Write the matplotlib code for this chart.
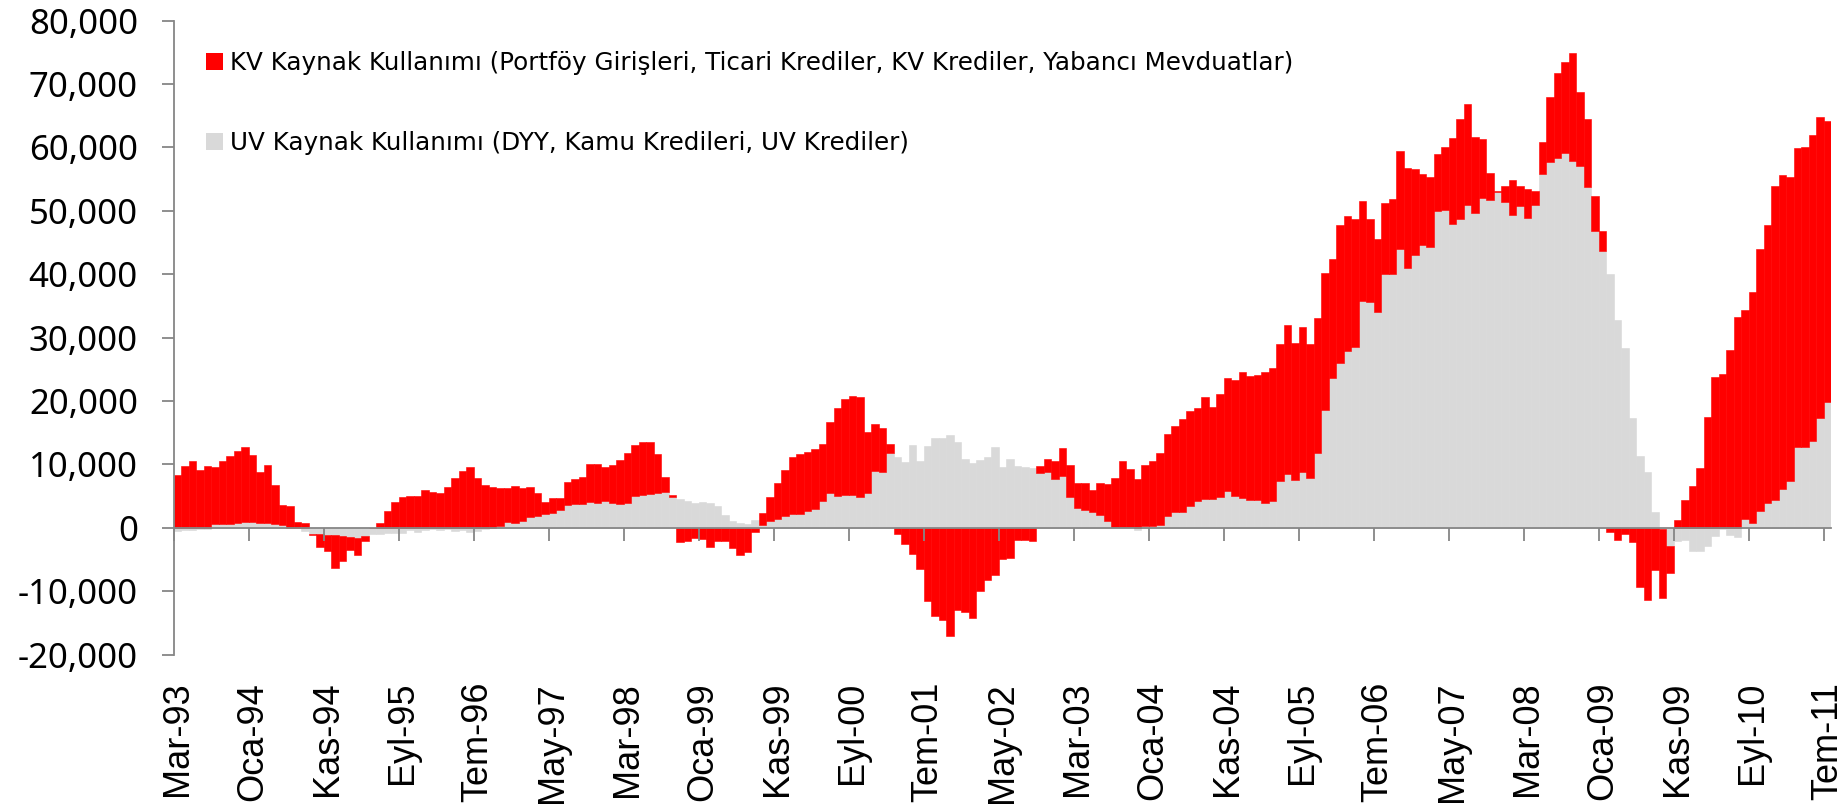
import numpy as np
import matplotlib.pyplot as plt
from matplotlib.patches import Patch
from matplotlib.ticker import FuncFormatter

# eksen etiketleri (her 10 ayda bir)
tick_labels = ["Mar-93", "Oca-94", "Kas-94", "Eyl-95", "Tem-96", "May-97", "Mar-98",
               "Oca-99", "Kas-99", "Eyl-00", "Tem-01", "May-02", "Mar-03", "Oca-04",
               "Kas-04", "Eyl-05", "Tem-06", "May-07", "Mar-08", "Oca-09", "Kas-09",
               "Eyl-10", "Tem-11"]

# UV kaynak kullanimi (gri seri), Mar-93 .. Tem-11, aylik
uv = [-500, -400, -300, -200, -100, 600, 600, 550, 750, 850,
      900, 800, 750, 650, 400, 0, 0, -500, -950, -950,
      -1050, -1200, -1350, -1450, -1550, -1250, -1000, -900, -850, -800,
      -800, -400, -600, -300, -200, -300, -200, -500, -300, -600,
      -500, -200, 0, 300, 900, 800, 1150, 1650, 1950, 2200,
      2400, 2850, 3600, 3700, 3800, 4050, 3900, 4200, 4000, 3800,
      3900, 5000, 5200, 5400, 5550, 5600, 4850, 4600, 4250, 3950,
      4050, 3850, 3450, 2000, 1150, 750, 600, 1200, 400, 1050,
      1350, 1850, 2150, 2200, 2700, 3000, 4200, 5450, 4950, 5150,
      5200, 4850, 5450, 8950, 8750, 11750, 11200, 10450, 13050, 10600,
      12900, 14100, 14250, 14650, 13500, 10800, 10300, 10700, 11250, 12800,
      9650, 10800, 9750, 9550, 9500, 8700, 8850, 7650, 8150, 4900,
      3100, 2800, 2550, 2100, 1050, 150, 150, 100, -400, 250,
      250, 450, 1850, 2550, 2550, 3450, 4300, 4600, 4500, 4850,
      5800, 5100, 4700, 4450, 4450, 3900, 4300, 7400, 8550, 7600,
      8750, 7900, 11800, 18550, 23700, 25950, 27900, 28550, 35800, 35550,
      34100, 40000, 40050, 43900, 41050, 43050, 44650, 44250, 49900, 50150,
      47900, 48700, 50950, 49600, 52050, 51750, 52900, 51400, 49300, 50700,
      48850, 50850, 55800, 57750, 58300, 59150, 57800, 57000, 53700, 46750,
      43600, 40050, 32800, 28350, 17300, 11350, 8850, 2550, -200, -2900,
      -2050, -1950, -3650, -3650, -2850, -1250, -100, -1150, -1400, 1350,
      700, 2650, 3850, 4350, 6200, 7400, 12700, 12800, 13700, 17300, 19850]

# KV kaynak kullanimi (kirmizi seri)
kv = [8300, 9800, 10500, 9200, 9700, 9000, 10000, 10750, 11350, 11850,
      10550, 8000, 9100, 6100, 3250, 3500, 900, 800, -250, -2000,
      -2600, -5200, -3800, -2000, -2800, -800, 0, 800, 2600, 4050,
      4800, 5000, 5100, 6000, 5700, 5500, 6400, 7900, 8900, 9550,
      7900, 6800, 6500, 5950, 5400, 5750, 5100, 4850, 3600, 1850,
      2350, 1800, 3600, 4050, 4250, 6050, 6150, 5400, 5850, 6850,
      7900, 8050, 8400, 8200, 6050, 2400, 300, -2200, -2100, -1600,
      -1800, -2950, -2100, -2100, -3250, -4350, -3800, -650, 2000, 3800,
      5800, 7200, 9050, 9450, 9200, 9450, 9050, 11300, 13900, 15100,
      15550, 15750, 9700, 7400, 6950, 1450, -1000, -2600, -4050, -6450,
      -11550, -13900, -14450, -17000, -13000, -13300, -14200, -10000, -8150, -7500,
      -4850, -4700, -1850, -1850, -2100, 1050, 2000, 2950, 4400, 5000,
      4050, 4300, 3350, 5050, 5850, 7700, 10400, 9250, 7750, 9650,
      10250, 11350, 12900, 13450, 14550, 14950, 14600, 16050, 14550, 16300,
      17900, 18200, 19800, 19500, 19600, 20600, 20850, 21550, 23500, 21500,
      22850, 21100, 21250, 21600, 18650, 21750, 21250, 20150, 15800, 13150,
      11450, 11200, 11800, 15600, 15700, 13600, 11200, 11100, 9050, 9900,
      13550, 15700, 15950, 12000, 9300, 4200, 200, 2450, 5600, 3150,
      4600, 2250, 5100, 10250, 13350, 14300, 17150, 11750, 10700, 5550,
      3250, -650, -1950, -900, -2300, -9350, -11450, -6700, -10800, -4200,
      1300, 4350, 6600, 9400, 17550, 23850, 24300, 28100, 33200, 32950,
      36550, 41350, 43950, 49600, 49400, 48000, 47150, 47250, 48200, 47550, 44250]

kv_label = "KV Kaynak Kullanımı (Portföy Girişleri, Ticari Krediler, KV Krediler, Yabancı Mevduatlar)"
uv_label = "UV Kaynak Kullanımı (DYY, Kamu Kredileri, UV Krediler)"

RED = "#ff0000"
GRAY = "#d9d9d9"
AXIS = "#868686"

x = np.arange(len(uv))
uv_arr = np.array(uv)
kv_arr = np.array(kv)
# Excel gibi: pozitifler pozitiflerin, negatifler negatiflerin ustune yigilir
kv_bottom = np.where(kv_arr >= 0, np.maximum(uv_arr, 0), np.minimum(uv_arr, 0))

fig = plt.figure(figsize=(18.49, 8.05), dpi=100)
ax = fig.add_axes([0.0941, 0.1867, 0.8964, 0.7878])

ax.bar(x, uv_arr, width=1.0, color=GRAY, edgecolor=GRAY, linewidth=0.4)
ax.bar(x, kv_arr, bottom=kv_bottom, width=1.0, color=RED, edgecolor=RED, linewidth=0.4)

ax.set_xlim(-0.5, len(uv) - 0.5)
ax.set_ylim(-20000, 80000)

for s in ["top", "right"]:
    ax.spines[s].set_visible(False)
ax.spines["bottom"].set_position(("data", 0))
ax.spines["bottom"].set_color(AXIS)
ax.spines["left"].set_color(AXIS)
ax.spines["bottom"].set_linewidth(1.3)
ax.spines["left"].set_linewidth(1.3)

# x ekseni: tikler kategori sinirlarinda, etiketler altta
ax.set_xticks(np.arange(0, len(uv), 10) - 0.5)
ax.tick_params(axis="x", length=9, width=1.3, color=AXIS, labelbottom=False, direction="out")

ax.set_yticks(np.arange(-20000, 80001, 10000))
ax.yaxis.set_major_formatter(FuncFormatter(lambda v, p: f"{v:,.0f}"))
ax.tick_params(axis="y", length=9, width=1.3, color=AXIS, pad=17, labelsize=25)
for lbl in ax.get_yticklabels():
    lbl.set_fontfamily("Noto Sans")

sec = ax.secondary_xaxis("bottom")
sec.set_xticks(np.arange(0, len(uv), 10), labels=tick_labels)
sec.tick_params(length=0, pad=19.5, labelsize=26, labelrotation=90)
sec.spines["bottom"].set_visible(False)
for lbl in sec.get_xticklabels():
    lbl.set_fontfamily("Liberation Sans")

handles = [Patch(facecolor=RED, edgecolor="none"), Patch(facecolor=GRAY, edgecolor="none")]
fig.legend(handles, [kv_label, uv_label], loc="upper left", bbox_to_anchor=(0.1114, 0.937),
           frameon=False, prop={"family": "DejaVu Sans", "size": 17.7},
           handlelength=0.68, handleheight=0.68, handletextpad=0.3,
           labelspacing=2.3, borderpad=0, borderaxespad=0)

fig.savefig("out.png", dpi=100)
